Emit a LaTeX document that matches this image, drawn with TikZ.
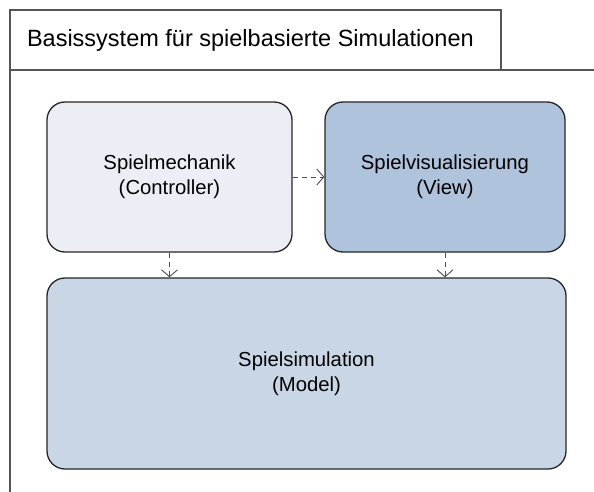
\documentclass[tikz,border=0pt]{standalone}
\usepackage{fontspec}
\setmainfont{Liberation Sans}
\usetikzlibrary{arrows.meta,positioning}

\definecolor{mechfill}{HTML}{EBEFF5}
\definecolor{visfill}{HTML}{B0C3DC}
\definecolor{simfill}{HTML}{C9D6E6}
\definecolor{framegray}{HTML}{555555}

\begin{document}
\begin{tikzpicture}[x=1pt, y=-1pt,
    main/.style = {draw=black!85, line width=1.3pt, rounded corners=18pt, inner sep=0pt, align=center, font=\fontsize{20.3}{25}\selectfont},
    dep/.style = {draw=black!70, dashed, dash pattern=on 5pt off 4pt, line width=0.9pt, -{Straight Barb[length=7pt, width=16pt, line width=0.9pt]}}]
    \useasboundingbox (0,0) rectangle (594,492);

    % package frame
    \draw[framegray, line width=1.6pt] (10,492) -- (10,10) -- (501,10) -- (501,70);
    \draw[framegray, line width=1.6pt] (10,70) -- (594,70);
    \node[anchor=west, font=\fontsize{23.5}{28}\selectfont] (title) at (23.5,40) {Basissystem für spielbasierte Simulationen};

    \node[main, fill=mechfill, minimum width=245pt, minimum height=150pt] (mech) at (169.5,177) {Spielmechanik\\(Controller)};
    \node[main, fill=visfill, minimum width=240pt, minimum height=150pt] (vis) at (445,177) {Spielvisualisierung\\(View)};
    \node[main, fill=simfill, minimum width=519pt, minimum height=191pt] (sim) at (306.5,373.5) {Spielsimulation\\(Model)};

    \draw[dep] (mech) -- (vis);
    \draw[dep] (mech.south) -- (mech.south |- sim.north);
    \draw[dep] (vis.south) -- (vis.south |- sim.north);

    \end{tikzpicture}
\end{document}
